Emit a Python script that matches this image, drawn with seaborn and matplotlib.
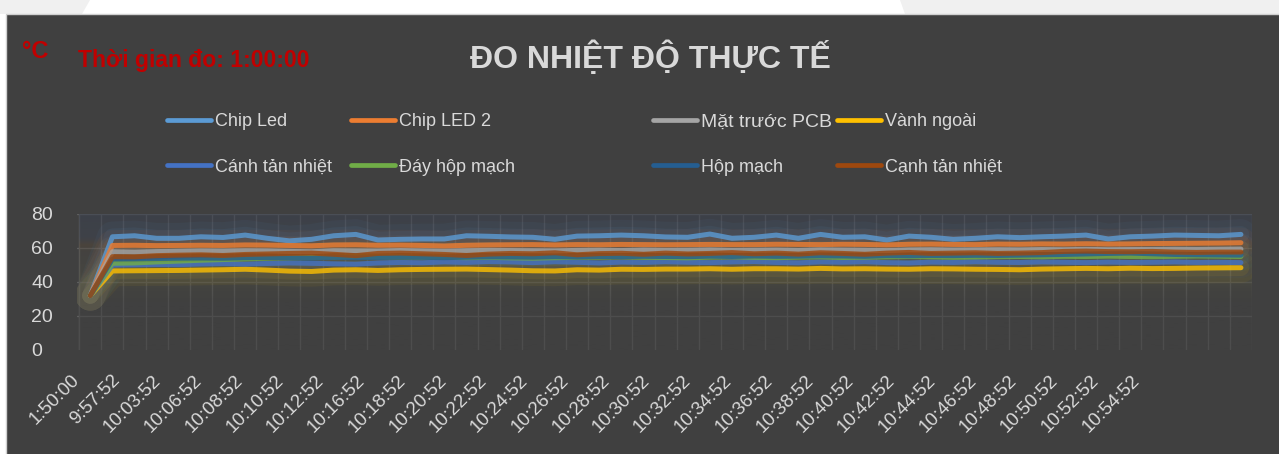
import numpy as np
import pandas as pd
import matplotlib
matplotlib.use("Agg")
import matplotlib.pyplot as plt
import seaborn as sns
from matplotlib.patches import Rectangle, Polygon
from matplotlib.lines import Line2D

# --- dữ liệu (°C), 53 lần đo ---
chip_led = [32, 66.6, 67.2, 65.7, 65.7, 66.6, 66.2, 67.6, 65.7, 64.2, 65.1, 67.2, 68.0, 64.7,
            65.1, 65.3, 65.3, 67.2, 66.9, 66.5, 66.3, 65.1, 67.0, 67.2, 67.6, 67.2, 66.5, 66.3,
            68.2, 65.7, 66.3, 67.6, 65.7, 68.0, 66.3, 66.6, 64.7, 67.0, 66.3, 65.1, 65.7, 66.6,
            66.1, 66.6, 67.0, 67.6, 65.3, 66.6, 67.0, 67.6, 67.4, 67.2, 68.0]
chip_led_2 = [32, 61.5, 61.6, 61.4, 61.5, 61.6, 61.5, 61.8, 61.7, 61.5, 61.3, 61.8, 61.9, 61.6,
              61.7, 61.5, 61.2, 61.6, 61.8, 61.9, 62.0, 61.8, 62.0, 61.9, 62.1, 62.0, 61.9, 62.0,
              62.1, 62.0, 62.0, 62.2, 62.1, 62.0, 62.2, 62.1, 61.8, 62.2, 62.3, 62.1, 62.0, 62.3,
              62.2, 62.4, 62.3, 62.5, 62.3, 62.4, 62.6, 62.7, 62.8, 62.9, 63.1]
mat_truoc_pcb = [32, 57.8, 57.6, 57.9, 58.1, 58.3, 58.2, 58.4, 58.3, 58.0, 57.8, 58.4, 58.3, 58.2,
                 58.5, 58.3, 58.1, 58.4, 58.6, 58.5, 58.4, 58.3, 58.6, 58.7, 58.5, 58.8, 58.6, 58.7,
                 58.9, 58.6, 58.7, 58.8, 58.6, 58.9, 58.8, 58.7, 58.5, 58.9, 59.0, 58.8, 58.9, 59.0,
                 58.9, 59.1, 59.0, 59.2, 59.0, 59.1, 59.2, 59.3, 59.2, 59.3, 59.4]
vanh_ngoai = [32, 46.5, 46.6, 46.7, 46.8, 47.0, 47.2, 47.5, 47.0, 46.4, 46.2, 47.0, 47.2, 46.8,
              47.2, 47.4, 47.5, 47.6, 47.3, 47.0, 46.6, 46.5, 47.2, 47.0, 47.5, 47.4, 47.6, 47.6,
              47.8, 47.5, 47.8, 47.8, 47.6, 48.0, 47.7, 47.8, 47.6, 47.5, 47.8, 47.7, 47.5, 47.4,
              47.2, 47.6, 47.8, 48.0, 47.8, 48.1, 47.9, 48.0, 48.2, 48.3, 48.4]
canh_tan_nhiet = [32, 50.0, 50.1, 50.3, 50.2, 50.6, 50.8, 50.5, 50.9, 51.2, 51.0, 50.7, 50.5, 51.2,
                  51.5, 51.3, 51.8, 51.5, 52.0, 51.8, 51.4, 51.9, 51.6, 51.2, 51.7, 51.5, 51.9, 51.6,
                  51.4, 51.8, 52.0, 51.5, 51.3, 51.8, 51.6, 51.9, 51.4, 51.2, 51.7, 51.5, 51.9, 51.6,
                  51.5, 51.8, 51.6, 51.4, 51.7, 51.5, 51.6, 51.8, 51.5, 51.6, 51.4]
day_hop_mach = [32, 51.0, 51.2, 51.8, 52.3, 52.8, 53.2, 53.6, 54.0, 54.2, 54.4, 54.6, 54.8, 54.6,
                54.7, 54.5, 54.6, 54.3, 54.5, 54.2, 54.0, 54.3, 54.5, 54.6, 54.8, 54.5, 54.4, 54.2,
                54.6, 54.8, 54.5, 54.3, 54.6, 54.8, 54.4, 54.6, 54.8, 55.0, 54.8, 54.5, 54.7, 54.9,
                55.0, 54.8, 55.1, 55.0, 55.2, 55.0, 54.9, 55.1, 55.3, 55.2, 55.0]
hop_mach = [32, 53.5, 53.6, 53.8, 54.0, 54.1, 54.0, 54.3, 54.4, 54.2, 54.0, 54.5, 54.3, 54.4,
            54.6, 54.5, 54.3, 54.6, 54.8, 54.7, 54.6, 54.9, 54.7, 55.0, 54.9, 55.1, 55.0, 54.9,
            55.2, 55.0, 55.3, 55.1, 55.2, 55.4, 55.3, 55.1, 55.5, 55.4, 55.6, 55.5, 55.7, 55.6,
            55.8, 56.0, 56.2, 56.5, 56.8, 57.0, 56.6, 56.2, 56.0, 55.9, 55.8]
canh_tan_nhiet_2 = [32, 54.9, 54.8, 55.5, 55.8, 56.0, 55.6, 56.2, 56.5, 56.8, 57.0, 56.3, 55.5, 56.8,
                    57.0, 56.6, 56.2, 55.6, 56.4, 56.8, 56.6, 57.2, 56.0, 56.7, 56.9, 56.3, 57.0, 56.5,
                    56.8, 57.3, 56.6, 57.0, 56.4, 57.2, 56.8, 56.3, 57.0, 57.4, 56.8, 57.0, 57.2, 56.8,
                    57.0, 57.3, 58.0, 58.2, 57.9, 57.8, 58.0, 57.6, 57.4, 57.6, 57.6]

series_names = ["Chip Led", "Chip LED 2", "Mặt trước PCB", "Vành ngoài",
                "Cánh tản nhiệt", "Đáy hộp mạch", "Hộp mạch", "Cạnh tản nhiệt"]
series_values = [chip_led, chip_led_2, mat_truoc_pcb, vanh_ngoai,
                 canh_tan_nhiet, day_hop_mach, hop_mach, canh_tan_nhiet_2]
series_colors = ["#5b9bd5", "#ed7d31", "#a5a5a5", "#ffc000",
                 "#4472c4", "#70ad47", "#255e91", "#9e480e"]

tick_labels = ["1:50:00", "9:57:52", "10:03:52", "10:06:52", "10:08:52", "10:10:52", "10:12:52",
               "10:16:52", "10:18:52", "10:20:52", "10:22:52", "10:24:52", "10:26:52", "10:28:52",
               "10:30:52", "10:32:52", "10:34:52", "10:36:52", "10:38:52", "10:40:52", "10:42:52",
               "10:44:52", "10:46:52", "10:48:52", "10:50:52", "10:52:52", "10:54:52"]

n = len(chip_led)
df = pd.concat([pd.DataFrame({"lan_do": np.arange(n), "nhiet_do": v, "vi_tri": name})
                for name, v in zip(series_names, series_values)], ignore_index=True)
palette = dict(zip(series_names, series_colors))

sns.set_style("dark")
plt.rcParams["font.family"] = ["Liberation Sans", "DejaVu Sans"]

W, H = 1279, 454
fx = lambda px: px / W
fy = lambda py: 1 - py / H

fig = plt.figure(figsize=(W / 100, H / 100), dpi=100, facecolor="white")
# nền: dải trắng trên cùng + khung tối
fig.patches.append(Polygon([(0, 1), (fx(90), 1), (fx(82), fy(14)), (0, fy(14))],
                           transform=fig.transFigure, facecolor="#f0f0f0", edgecolor="none", zorder=-2))
fig.patches.append(Polygon([(fx(900), 1), (1, 1), (1, fy(14)), (fx(905), fy(14))],
                           transform=fig.transFigure, facecolor="#f0f0f0", edgecolor="none", zorder=-2))
fig.patches.append(Rectangle((fx(6), -0.01), 1.0, fy(14) + 0.01, transform=fig.transFigure,
                             facecolor="#404040", edgecolor="#d0d0d0", lw=1, zorder=-1))

ax = fig.add_axes([fx(77), fy(350), fx(1252) - fx(77), fy(214) - fy(350)])
ax.set_facecolor("#404040")
ax.patch.set_alpha(0)

# lớp tô chuyển màu trong vùng vẽ
stops_y = [0, 28, 36, 42, 48, 58, 62, 66, 80]
stops_c = np.array([
    [0x40, 0x40, 0x40, 0.55], [0x40, 0x40, 0x40, 0.55], [0x46, 0x46, 0x3f, 0.45],
    [0x50, 0x51, 0x40, 0.55], [0x4d, 0x4c, 0x42, 0.4], [0x4d, 0x48, 0x40, 0.35],
    [0x55, 0x48, 0x38, 0.5], [0x3f, 0x44, 0x50, 0.5], [0x3a, 0x41, 0x50, 0.55]])
yy = np.linspace(0, 80, 161)
grad = np.stack([np.interp(yy, stops_y, stops_c[:, i]) for i in range(4)], axis=-1)
grad[:, :3] /= 255
ax.imshow(grad[:, None, :], extent=[-0.5, n - 0.5, 0, 80], origin="lower",
          aspect="auto", interpolation="bilinear", zorder=1)

# hiệu ứng phát sáng + đường chính
for lw, a in [(22, 0.05), (12, 0.07)]:
    sns.lineplot(data=df, x="lan_do", y="nhiet_do", hue="vi_tri", hue_order=series_names,
                 palette=palette, estimator=None, linewidth=lw, alpha=a, legend=False,
                 ax=ax, zorder=2, solid_capstyle="round")
sns.lineplot(data=df, x="lan_do", y="nhiet_do", hue="vi_tri", hue_order=series_names,
             palette=palette, estimator=None, linewidth=3.6, alpha=0.8, legend=False,
             ax=ax, zorder=3, solid_capstyle="round", solid_joinstyle="round")

ax.set_xlim(-0.5, n - 0.5)
ax.set_ylim(0, 80)
ax.set_xlabel("")
ax.set_ylabel("")
for s in ax.spines.values():
    s.set_visible(False)

ax.set_xticks(np.arange(-0.5, n, 1.0), minor=True)
ax.set_xticks(np.linspace(-0.6, 47.3, len(tick_labels)))
ax.set_xticklabels(tick_labels, rotation=45, ha="right", va="center",
                   rotation_mode="anchor", fontsize=13.5, color="#d9d9d9")
ax.set_yticks([0, 20, 40, 60, 80])
ax.tick_params(which="both", length=0)
ax.tick_params(axis="x", pad=20)
ax.tick_params(axis="y", pad=33, labelsize=14, labelcolor="#d9d9d9")
for lab in ax.get_yticklabels():
    lab.set_ha("left")

ax.set_axisbelow(True)
ax.grid(False)
ax.grid(which="minor", axis="x", color="#5e5e5e", lw=1)
ax.grid(which="major", axis="y", color="#5e5e5e", lw=1)
ax.yaxis.get_major_ticks()[0].gridline.set_visible(False)

# chú giải: mỗi mục một hộp riêng, đặt theo vị trí trong hình gốc
cols_px = [167, 351, 653, 837]
rows_px = [122, 167]
for i, (name, col) in enumerate(zip(series_names, series_colors)):
    r, c = divmod(i, 4)
    fs = 14 if name == "Mặt trước PCB" else 13
    fpx = fs * 100 / 72
    fig.legend(handles=[Line2D([], [], color=col, lw=3.4, solid_capstyle="round")], labels=[name],
               loc="center left", bbox_to_anchor=(fx(cols_px[c]), fy(rows_px[r])),
               frameon=False, fontsize=fs, labelcolor="#d9d9d9",
               handlelength=44 / fpx, handletextpad=4 / fpx, borderpad=0, borderaxespad=0)

fig.text(fx(22), fy(58), "°C", color="#c00000", fontsize=17, fontweight="bold", va="baseline")
fig.text(fx(78), fy(67), "Thời gian đo: 1:00:00", color="#c00000", fontsize=16.5,
         fontweight="bold", va="baseline")
fig.text(fx(470), fy(68), "ĐO NHIỆT ĐỘ THỰC TẾ", color="#d9d9d9", fontsize=23,
         fontweight="bold", va="baseline")

fig.savefig("out.png", dpi=100)
